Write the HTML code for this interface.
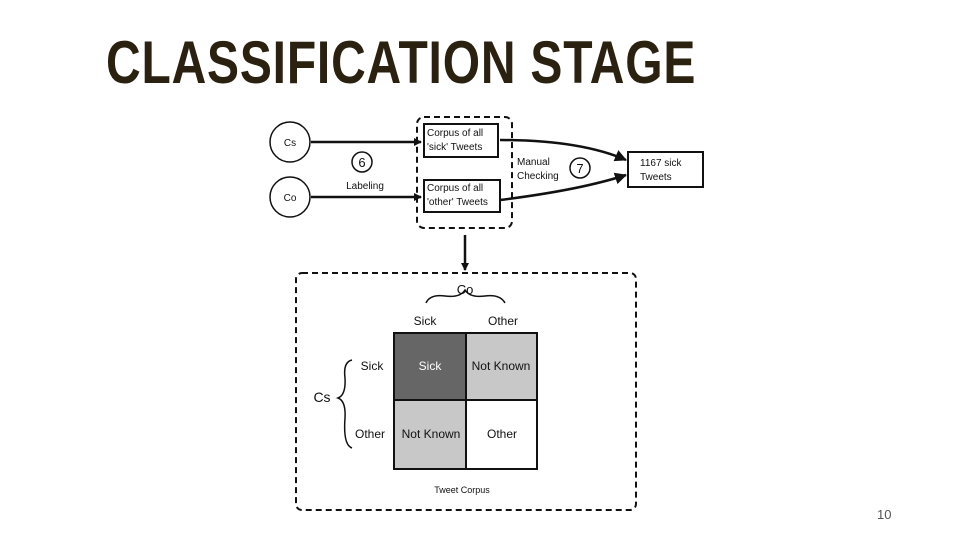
<!DOCTYPE html>
<html><head><style>
body{margin:0;width:960px;height:540px;background:#fff;overflow:hidden;position:relative;font-family:"Liberation Sans",sans-serif}
.t{position:absolute;left:106px;top:28px;font-size:60px;font-weight:bold;color:#2a2110;transform:scaleX(0.8);transform-origin:left top;letter-spacing:1px;white-space:nowrap}
.n{position:absolute;left:877px;top:507px;font-size:13px;color:#555}
</style></head><body>
<div class="t">CLASSIFICATION STAGE</div>
<svg width="960" height="540" style="position:absolute;left:0;top:0" font-family="Liberation Sans, sans-serif">
<defs><marker id="a" markerWidth="8" markerHeight="8" refX="7" refY="4" orient="auto" markerUnits="userSpaceOnUse"><path d="M0,0L8,4L0,8z" fill="#111"/></marker>
<marker id="b" markerWidth="12" markerHeight="12" refX="11" refY="6" orient="auto" markerUnits="userSpaceOnUse"><path d="M0,0L12,6L0,12z" fill="#111"/></marker></defs>
<g stroke="#111" stroke-width="1.5" fill="#fff">
<circle cx="290" cy="142" r="20"/><circle cx="290" cy="197" r="20"/>
<circle cx="362" cy="162" r="10"/><circle cx="580" cy="168" r="10"/>
</g>
<g stroke="#111" stroke-width="2.5" fill="none">
<line x1="311" y1="142" x2="421" y2="142" marker-end="url(#a)"/>
<line x1="311" y1="197" x2="421" y2="197" marker-end="url(#a)"/>
<path d="M500,140 Q580,140 626,160" marker-end="url(#b)"/>
<path d="M500,200 Q580,190 626,175" marker-end="url(#b)"/>
<line x1="465" y1="235" x2="465" y2="270" marker-end="url(#a)"/>
<rect x="417" y="117" width="95" height="111" rx="7" stroke-dasharray="6,4" stroke-width="2"/>
<rect x="296" y="273" width="340" height="237" rx="6" stroke-dasharray="6,4" stroke-width="2"/>
</g>
<g stroke="#111" stroke-width="2" fill="#fff">
<rect x="424" y="124" width="74" height="33"/><rect x="424" y="180" width="76" height="32"/>
<rect x="628" y="152" width="75" height="35"/>
<rect x="394" y="333" width="72" height="67" fill="#666"/>
<rect x="466" y="333" width="71" height="67" fill="#c8c8c8"/>
<rect x="394" y="400" width="72" height="69" fill="#c8c8c8"/>
<rect x="466" y="400" width="71" height="69" fill="#fff"/>
</g>
<g stroke="#111" stroke-width="1.5" fill="none">
<path d="M426,303 Q430,294 445,296 Q460,298 465,290 Q470,298 485,296 Q500,294 505,303"/>
<path d="M352,360 Q343,362 345,378 Q346,395 338,398 Q346,401 345,418 Q343,445 352,448"/>
</g>
<g font-size="10" fill="#111">
<text x="290" y="146" text-anchor="middle">Cs</text><text x="290" y="201" text-anchor="middle">Co</text>
<text x="362" y="167" text-anchor="middle" font-size="13">6</text><text x="580" y="173" text-anchor="middle" font-size="13">7</text>
<text x="365" y="189" text-anchor="middle">Labeling</text>
<text x="517" y="165">Manual</text><text x="517" y="179">Checking</text>
<text x="427" y="136">Corpus of all</text><text x="427" y="150">'sick' Tweets</text>
<text x="427" y="191">Corpus of all</text><text x="427" y="205">'other' Tweets</text>
<text x="640" y="166">1167 sick</text><text x="640" y="180">Tweets</text>
<g font-size="12">
<text x="465" y="294" text-anchor="middle" font-size="13">Co</text>
<text x="425" y="325" text-anchor="middle">Sick</text><text x="503" y="325" text-anchor="middle">Other</text>
<text x="322" y="402" text-anchor="middle" font-size="14">Cs</text>
<text x="372" y="370" text-anchor="middle">Sick</text><text x="370" y="438" text-anchor="middle">Other</text>
<text x="430" y="370" text-anchor="middle" fill="#fff">Sick</text>
<text x="501" y="370" text-anchor="middle">Not Known</text>
<text x="431" y="438" text-anchor="middle">Not Known</text>
<text x="502" y="438" text-anchor="middle">Other</text>
</g>
<text x="462" y="493" text-anchor="middle" font-size="9">Tweet Corpus</text>
</g>
</svg>
<div class="n">10</div>
</body></html>
